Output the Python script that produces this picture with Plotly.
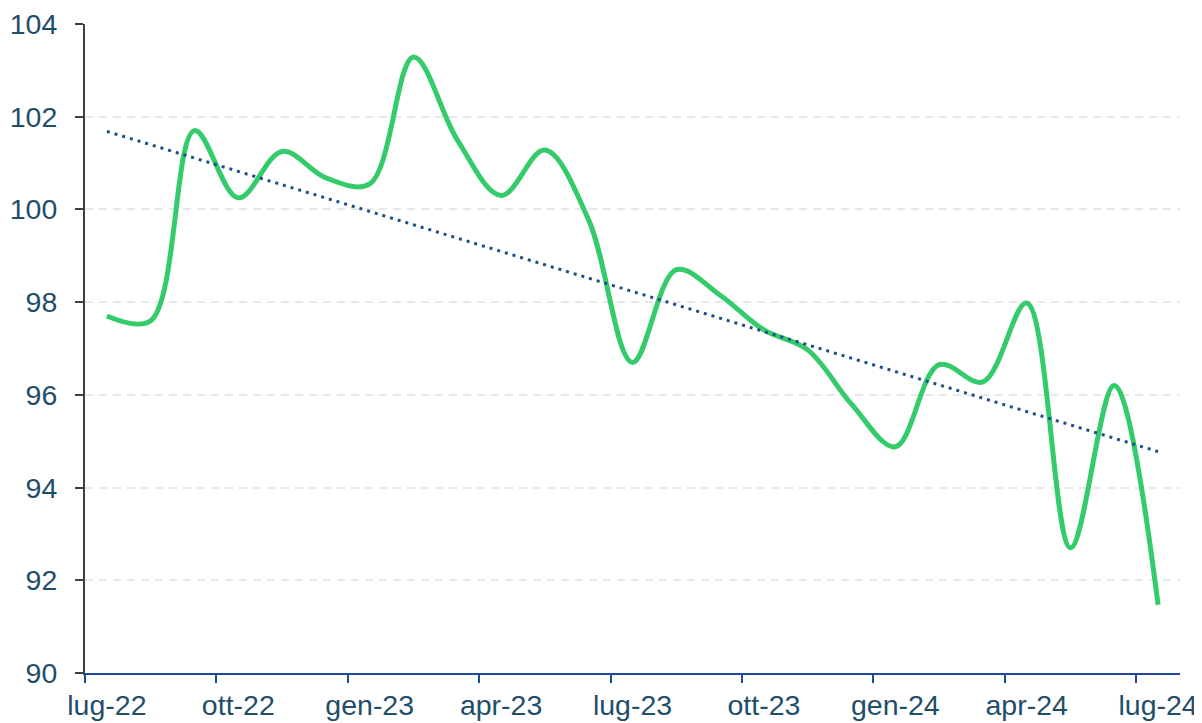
import numpy as np
import plotly.graph_objects as go

months = ["lug-22", "ago-22", "set-22", "ott-22", "nov-22", "dic-22",
          "gen-23", "feb-23", "mar-23", "apr-23", "mag-23", "giu-23",
          "lug-23", "ago-23", "set-23", "ott-23", "nov-23", "dic-23",
          "gen-24", "feb-24", "mar-24", "apr-24", "mag-24", "giu-24",
          "lug-24"]
values = [97.7, 97.6, 101.7, 100.25, 101.25, 100.68, 100.55, 103.29, 101.5,
          100.3, 101.28, 99.77, 96.7, 98.7, 98.15, 97.4, 96.97, 95.8, 94.88,
          96.65, 96.28, 97.98, 92.7, 96.2, 91.47]

x = np.arange(len(values))
slope, intercept = np.polyfit(x, values, 1)
trend = slope * x + intercept

label_idx = list(range(0, len(months), 3))
label_text = [months[i] for i in label_idx]
boundary_ticks = [i - 0.5 for i in label_idx]

font_family = "Liberation Sans, Arial, sans-serif"
label_color = "#1F4E69"

fig = go.Figure()
fig.add_trace(go.Scatter(
    x=x, y=values, mode="lines",
    line=dict(color="#34CB6A", width=5, shape="spline", smoothing=1),
    hoverinfo="skip", showlegend=False,
))
fig.add_trace(go.Scatter(
    x=x, y=trend, mode="lines",
    line=dict(color="#1F4E8C", width=3, dash="3px,5px"),
    hoverinfo="skip", showlegend=False,
))

# page body has an 8px margin, so the figure is sized/offset to compensate
fig.update_layout(
    width=1194, height=715,
    margin=dict(l=77, r=22, t=16, b=50),
    paper_bgcolor="white", plot_bgcolor="white",
    font=dict(family=font_family, size=28.5, color=label_color),
    showlegend=False,
)
fig.update_xaxes(
    range=[-0.5, len(values) - 0.5],
    automargin=False,
    tickmode="array", tickvals=label_idx, ticktext=label_text,
    ticks="", showgrid=False, zeroline=False,
    showline=True, linecolor="#1F4A9C", linewidth=2,
    ticklabelstandoff=6, ticklabeloverflow="allow",
    tickfont=dict(size=28.5, color=label_color),
    minor=dict(tickmode="array", tickvals=boundary_ticks, ticks="outside",
               ticklen=8, tickwidth=2, tickcolor="#1F4A9C", showgrid=False),
)
fig.update_yaxes(
    range=[90, 104], dtick=2, tick0=90,
    automargin=False,
    ticks="outside", ticklen=8, tickwidth=2, tickcolor="#404040",
    showline=True, linecolor="#404040", linewidth=2,
    showgrid=True, gridcolor="#E8E8E8", gridwidth=1.5, griddash="8px,6px",
    zeroline=False,
    ticklabelstandoff=12, ticklabeloverflow="allow",
    tickfont=dict(size=28.5, color=label_color),
)

fig.write_html("out.html")
